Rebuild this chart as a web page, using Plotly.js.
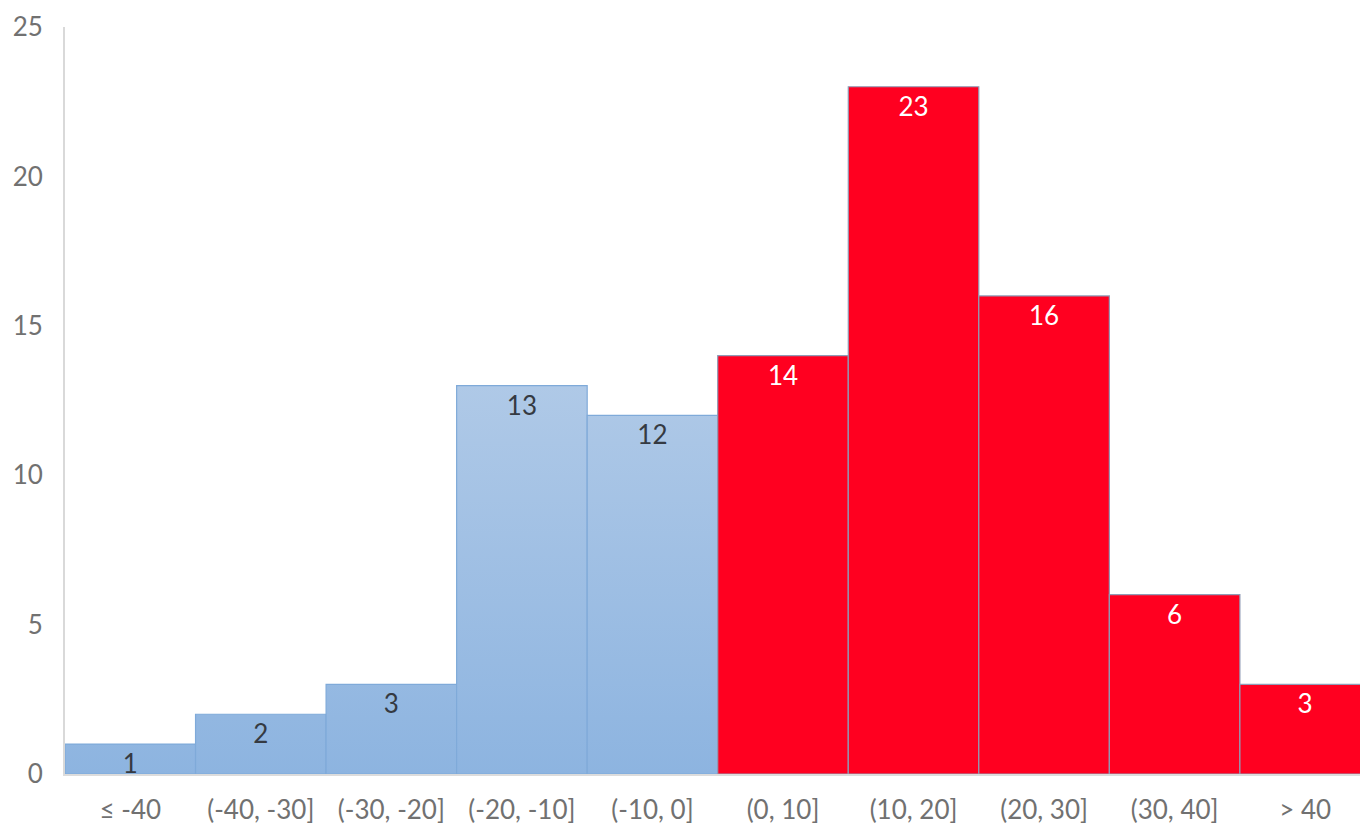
<!DOCTYPE html>
<html>
<head>
<meta charset="utf-8">
<script src="https://cdn.plot.ly/plotly-3.0.1.min.js"></script>
<style>
  html, body { margin: 0; padding: 0; background: #ffffff; }
  #chart { width: 1360px; height: 830px; }
</style>
</head>
<body>
<div id="chart"></div>
<script>
// Return buckets (in %) and how many cases fall in each
const buckets = ['≤ -40', '(-40, -30]', '(-30, -20]', '(-20, -10]', '(-10, 0]',
                 '(0, 10]', '(10, 20]', '(20, 30]', '(30, 40]', '> 40'];
const counts = [1, 2, 3, 13, 12, 14, 23, 16, 6, 3];
const yTicks = [0, 5, 10, 15, 20, 25];

// Styling: negative buckets blue, positive buckets red
const isNegative = buckets.map((_, i) => i < 5);
const blueFill = '#93b8e2';
const redFill = '#ff0020';
const fills = isNegative.map(n => n ? blueFill : redFill);
const edges = isNegative.map(n => n ? '#7faad9' : '#8f9cb6');
const labelColors = isNegative.map(n => n ? '#353a42' : '#ffffff');

const FONT = 'Lato, "Open Sans", sans-serif';
const AXIS_GRAY = '#717171';

const trace = {
  type: 'bar',
  x: buckets,
  y: counts,
  text: counts.map(String),
  textposition: 'inside',
  insidetextanchor: 'end',
  textangle: 0,
  constraintext: 'none',
  textfont: { family: FONT, size: 26, color: labelColors },
  marker: { color: fills, line: { color: edges, width: 1.2 } },
  hoverinfo: 'x+y',
  cliponaxis: true
};

const layout = {
  width: 1360,
  height: 830,
  margin: { l: 65, r: 0, t: 27, b: 56 },
  paper_bgcolor: '#ffffff',
  plot_bgcolor: '#ffffff',
  bargap: 0,
  showlegend: false,
  font: { family: FONT, size: 26, color: AXIS_GRAY },
  xaxis: {
    type: 'category',
    range: [-0.5, 9.42],
    showgrid: false,
    zeroline: false,
    showline: true,
    linecolor: '#dcdcdc',
    linewidth: 1.5,
    ticks: '',
    ticklabelstandoff: 12,
    tickfont: { family: FONT, size: 26, color: AXIS_GRAY }
  },
  yaxis: {
    range: [0, 25],
    tickvals: yTicks,
    ticktext: yTicks.map(String),
    showgrid: false,
    zeroline: false,
    showline: true,
    linecolor: '#d9d9d9',
    linewidth: 2,
    ticks: '',
    ticklabelstandoff: 15,
    tickfont: { family: FONT, size: 26, color: AXIS_GRAY }
  }
};

Plotly.newPlot('chart', [trace], layout, { displayModeBar: false, staticPlot: true }).then(gd => {
  // Vertical fade on the blue bars: lighter towards the top of the plot
  const svg = gd.querySelector('svg.main-svg');
  const defs = svg.querySelector('defs');
  const ya = gd._fullLayout.yaxis;
  const NS = 'http://www.w3.org/2000/svg';
  const grad = document.createElementNS(NS, 'linearGradient');
  grad.setAttribute('id', 'blueFade');
  grad.setAttribute('gradientUnits', 'userSpaceOnUse');
  grad.setAttribute('x1', 0);
  grad.setAttribute('x2', 0);
  grad.setAttribute('y1', ya.c2p(13));
  grad.setAttribute('y2', ya.c2p(0));
  [['0', '#afc9e7'], ['1', '#8db4e0']].forEach(([off, col]) => {
    const s = document.createElementNS(NS, 'stop');
    s.setAttribute('offset', off);
    s.setAttribute('stop-color', col);
    grad.appendChild(s);
  });
  defs.appendChild(grad);
  const points = gd.querySelectorAll('.trace.bars .point');
  points.forEach((pt, i) => {
    if (isNegative[i]) {
      const p = pt.querySelector('path');
      if (p) p.style.fill = 'url(#blueFade)';
    }
  });
});
</script>
</body>
</html>
